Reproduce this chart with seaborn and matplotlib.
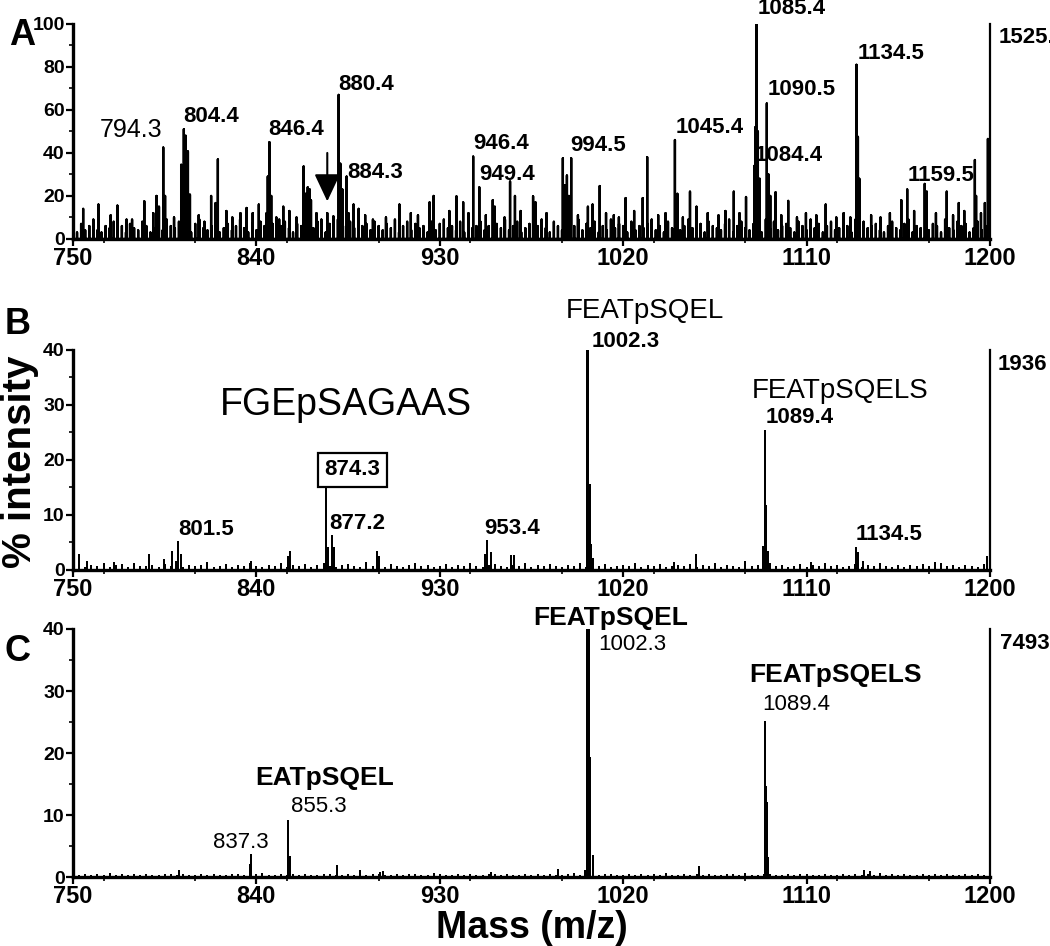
import numpy as np
import pandas as pd
import matplotlib.pyplot as plt
import seaborn as sns
from matplotlib.ticker import MultipleLocator

# ---------------- data ----------------
# Panel A: visible peaks (m/z, % intensity)
a_mz = [755.0, 762.5, 771.8, 779.0, 785.0, 791.0, 792.2, 794.3, 795.2, 803.1,
        804.4, 805.3, 806.4, 807.4, 814.5, 817.8, 820.0, 821.1, 828.2, 832.2,
        835.2, 838.2, 841.2, 845.0, 845.6, 846.4, 847.3, 851.2, 853.2, 856.2,
        859.7, 863.2, 864.2, 865.2, 866.2, 866.8, 874.8, 877.8, 880.4, 881.2,
        882.2, 884.3, 885.2, 887.7, 890.2, 897.2, 910.2, 925.0, 927.0, 938.2,
        941.5, 946.4, 949.4, 956.0, 957.0, 964.5, 966.9, 975.8, 977.0, 990.4,
        991.5, 992.4, 993.4, 994.5, 1002.7, 1005.0, 1008.5, 1015.4, 1021.2, 1029.6,
        1031.8, 1045.4, 1046.6, 1052.8, 1056.0, 1074.3, 1080.3, 1084.4, 1084.9, 1085.4,
        1086.1, 1087.0, 1090.5, 1091.3, 1092.2, 1094.8, 1101.0, 1119.4, 1131.5, 1134.5,
        1135.2, 1135.9, 1156.5, 1159.4, 1168.0, 1169.0, 1178.8, 1184.7, 1192.6, 1193.2,
        1197.5, 1199.0, 1199.6,
        768.5, 776.3, 789.4, 799.6, 811.7, 825.3, 849.8, 869.5, 871.9, 893.4,
        903.6, 915.8, 919.3, 934.7, 944.1, 952.6, 961.8, 969.7, 982.4, 997.8,
        1011.6, 1017.9, 1025.4, 1037.2, 1040.8, 1049.3, 1061.5, 1066.8, 1070.2, 1077.1,
        1097.6, 1105.3, 1109.7, 1114.8, 1124.6, 1128.2, 1141.7, 1146.3, 1150.9, 1162.8,
        1173.5, 1181.9, 1187.4, 1195.6]
a_int = [14, 16, 15.5, 9, 17.5, 20, 15, 42.5, 20, 34.5,
         51, 48, 40.7, 20.6, 8, 20, 16.7, 37, 10, 12,
         14.4, 12, 16, 12, 29, 45, 20, 9, 15, 13,
         10, 33.7, 21, 24, 23, 18, 12, 10.5, 67, 35,
         23, 29, 12, 16, 14, 9, 16, 17, 20, 19.8,
         17, 38.3, 24, 18, 15, 26.7, 20, 19.8, 17, 37.5,
         25, 29.5, 20, 37.5, 15, 16, 24.6, 11, 19, 19,
         38, 46, 21, 22, 15, 22, 19.5, 34, 52, 100,
         50, 28, 63, 30, 20, 21.7, 17.7, 16, 10, 81,
         47.5, 28, 18, 23, 25.6, 22, 22, 16.7, 36.7, 20,
         16.7, 46.5, 28,
         11, 9, 12, 10, 11, 13, 10, 12, 9, 11,
         10, 12, 11, 13, 12, 11, 10, 13, 12, 11,
         12, 10, 13, 11, 12, 10, 12, 11, 13, 12,
         11, 10, 12, 11, 10, 12, 11, 10, 12, 13,
         12, 11, 13, 12]
# Panel A baseline noise, one value every 2 Da from 750 to 1200
a_noise = [5, 3, 7, 4, 6, 9, 4, 3, 6, 5, 8, 4, 6, 3, 7, 5, 4, 8, 6, 3, 5, 7, 4, 9, 6,
           5, 8, 4, 6, 3, 7, 9, 5, 4, 6, 8, 3, 5, 7, 4, 6, 9, 5, 3, 7, 4, 8, 6, 5, 7,
           4, 6, 8, 5, 3, 7, 6, 9, 4, 5, 8, 6, 3, 7, 5, 9, 4, 6, 8, 5, 3, 6, 7, 4, 8,
           6, 4, 7, 5, 9, 3, 6, 8, 4, 7, 5, 6, 3, 8, 4, 7, 9, 5, 6, 4, 8, 3, 7, 5, 6,
           8, 4, 6, 3, 7, 5, 9, 4, 6, 8, 3, 5, 7, 4, 6, 9, 5, 3, 8, 6, 4, 7, 5, 6, 9,
           4, 7, 5, 8, 3, 6, 4, 9, 5, 7, 6, 3, 8, 4, 6, 5, 7, 9, 4, 6, 3, 8, 5, 7, 4,
           6, 9, 5, 4, 7, 3, 8, 6, 5, 4, 7, 9, 3, 6, 8, 5, 4, 7, 6, 3, 9, 5, 8, 4, 6,
           7, 5, 3, 8, 6, 4, 9, 5, 7, 3, 6, 8, 4, 5, 7, 6, 3, 9, 4, 8, 5, 6, 7, 4, 3,
           6, 8, 5, 4, 7, 9, 3, 6, 5, 8, 4, 7, 6, 3, 9, 5, 4, 8, 6, 7, 3, 5, 8, 4, 6,
           5]

# Panel B
b_mz = [752.8, 757.0, 770.0, 787.4, 794.8, 798.4, 800.6, 801.5, 803.0, 837.6,
        855.4, 856.6, 874.0, 874.3, 875.3, 877.2, 878.3, 899.4, 900.0, 952.0,
        953.4, 955.0, 964.8, 966.5, 1002.3, 1002.9, 1003.6, 1004.4, 1005.2, 1045.0,
        1055.6, 1080.0, 1088.6, 1089.4, 1090.2, 1091.0, 1112.0, 1134.5, 1135.3, 1137.5,
        1173.0, 1198.7]
b_int = [2.7, 1.5, 1.2, 2.7, 1.8, 3.2, 1.5, 5.0, 2.7, 1.5,
         2.4, 3.2, 6.5, 15.8, 4.0, 6.2, 4.0, 3.2, 2.4, 2.7,
         5.2, 3.0, 2.5, 2.5, 100, 60, 15.5, 4.5, 2.0, 1.2,
         2.7, 1.5, 4.2, 25.2, 11.7, 3.3, 1.2, 4.0, 3.0, 1.5,
         1.2, 2.4]
# Panel B baseline noise, one value every 3 Da
b_noise = [0.6, 1.2, 0.4, 0.8, 0.5, 1.0, 0.3, 0.7, 0.9, 0.4, 1.1, 0.6, 0.5, 0.8, 0.3, 0.9, 0.6, 1.0, 0.4, 0.7, 0.5, 0.8, 1.2, 0.4, 0.6,
           0.9, 0.3, 0.7, 0.5, 1.0, 0.6, 0.4, 0.8, 0.5, 1.1, 0.3, 0.7, 0.6, 0.9, 0.4, 0.8, 1.0, 0.5, 0.3, 0.7, 0.9, 0.6, 0.4, 1.2, 0.5,
           0.7, 0.4, 0.9, 0.6, 0.3, 0.8, 1.0, 0.5, 0.7, 0.4, 0.6, 0.9, 0.3, 0.8, 0.5, 1.1, 0.6, 0.4, 0.7, 0.9, 0.5, 0.3, 0.8, 0.6, 1.0,
           0.4, 0.7, 0.5, 0.9, 0.6, 0.3, 0.8, 0.5, 1.0, 0.4, 0.7, 0.6, 0.9, 0.3, 0.5, 0.8, 0.6, 1.1, 0.4, 0.7, 0.5, 0.9, 0.3, 0.6, 0.8,
           0.5, 0.9, 0.3, 0.7, 0.6, 1.0, 0.4, 0.8, 0.5, 0.3, 0.9, 0.6, 0.7, 0.4, 1.0, 0.5, 0.8, 0.3, 0.6, 0.9, 0.4, 0.7, 0.5, 1.1, 0.6,
           0.8, 0.4, 0.6, 0.9, 0.3, 0.7, 0.5, 1.0, 0.6, 0.4, 0.8, 0.3, 0.7, 0.5, 0.9, 0.6, 0.4, 1.0, 0.5, 0.7, 0.3, 0.8, 0.6, 0.4, 0.9,
           0.5]

# Panel C
c_mz = [785.6, 801.8, 836.8, 837.3, 855.3, 856.3, 879.6, 891.0, 900.5, 902.0,
        955.0, 988.0, 1001.4, 1002.3, 1002.8, 1003.3, 1003.7, 1005.0, 1057.0, 1089.4,
        1090.0, 1090.6, 1091.3, 1138.0, 1141.0]
c_int = [0.4, 0.9, 2.0, 3.5, 9.0, 3.3, 1.7, 0.9, 0.7, 0.8,
         0.6, 1.1, 1.0, 100, 24.6, 60, 19.2, 3.4, 1.6, 25.0,
         14.6, 12.0, 3.0, 1.0, 0.8]
c_noise = [0.3, 0.2, 0.4, 0.1, 0.3, 0.2, 0.5, 0.2, 0.3, 0.1, 0.4, 0.2, 0.3, 0.2, 0.1, 0.4, 0.3, 0.2, 0.3, 0.1, 0.2, 0.4, 0.2, 0.3, 0.1,
           0.2, 0.4, 0.3, 0.1, 0.2, 0.3, 0.5, 0.2, 0.1, 0.3, 0.2, 0.4, 0.1, 0.3, 0.2, 0.2, 0.4, 0.3, 0.1, 0.2, 0.3, 0.2, 0.5, 0.1, 0.3,
           0.4, 0.2, 0.1, 0.3, 0.2, 0.4, 0.3, 0.1, 0.2, 0.5, 0.3, 0.2, 0.1, 0.4, 0.2, 0.3, 0.2, 0.1, 0.3, 0.4, 0.2, 0.3, 0.1, 0.2, 0.4,
           0.1, 0.3, 0.2, 0.4, 0.2, 0.1, 0.3, 0.5, 0.2, 0.3, 0.1, 0.2, 0.4, 0.3, 0.2, 0.1, 0.3, 0.2, 0.4, 0.1, 0.3, 0.2, 0.5, 0.2, 0.1,
           0.3, 0.1, 0.4, 0.2, 0.3, 0.2, 0.1, 0.4, 0.3, 0.2, 0.5, 0.1, 0.2, 0.3, 0.4, 0.2, 0.1, 0.3, 0.2, 0.4, 0.3, 0.1, 0.2, 0.3, 0.2,
           0.2, 0.3, 0.1, 0.4, 0.2, 0.3, 0.2, 0.5, 0.1, 0.3, 0.2, 0.4, 0.1, 0.2, 0.3, 0.2, 0.4, 0.1, 0.3, 0.2, 0.1, 0.4, 0.2, 0.3, 0.2,
           0.3]

mz_ticks = [750, 840, 930, 1020, 1110, 1200]

# peak labels: (text, m/z, intensity, ha, weight, size)
a_labels = [("794.3", 793.8, 50.7, "right", "normal", 18),
            ("804.4", 804.0, 57, "left", "bold", 16),
            ("846.4", 846.0, 51, "left", "bold", 16),
            ("880.4", 880.0, 72, "left", "bold", 16),
            ("884.3", 884.8, 30.7, "left", "bold", 16),
            ("946.4", 946.2, 44.5, "left", "bold", 16),
            ("949.4", 949.2, 30.2, "left", "bold", 16),
            ("994.5", 994.0, 43.3, "left", "bold", 16),
            ("1045.4", 1045.6, 52, "left", "bold", 16),
            ("1085.4", 1085.8, 107, "left", "bold", 16),
            ("1090.5", 1090.9, 69.7, "left", "bold", 16),
            ("1084.4", 1084.6, 39, "left", "bold", 16),
            ("1134.5", 1134.9, 86.4, "left", "bold", 16),
            ("1159.5", 1159.6, 29.3, "left", "bold", 16),
            ("1525.", 1204.5, 93.5, "left", "bold", 16)]
b_labels = [("FGEpSAGAAS", 822.0, 30.0, "left", "normal", 27),
            ("877.2", 876.0, 8.5, "left", "bold", 16),
            ("801.5", 801.5, 7.3, "left", "bold", 16),
            ("953.4", 951.8, 7.6, "left", "bold", 16),
            ("FEATpSQEL", 991.7, 47.0, "left", "normal", 20),
            ("1002.3", 1004.6, 41.6, "left", "bold", 16),
            ("FEATpSQELS", 1082.9, 32.5, "left", "normal", 20),
            ("1089.4", 1089.7, 27.7, "left", "bold", 16),
            ("1134.5", 1134.2, 6.4, "left", "bold", 16),
            ("1936", 1204.0, 37.4, "left", "bold", 16)]
c_labels = [("EATpSQEL", 839.3, 16.0, "left", "bold", 19),
            ("855.3", 857.0, 11.4, "left", "normal", 16),
            ("837.3", 832.5, 5.5, "center", "normal", 16),
            ("FEATpSQEL", 976.0, 41.8, "left", "bold", 19),
            ("1002.3", 1007.6, 37.5, "left", "normal", 16),
            ("FEATpSQELS", 1082.0, 32.6, "left", "bold", 19),
            ("1089.4", 1088.5, 27.8, "left", "normal", 16),
            ("7493", 1205.0, 37.7, "left", "bold", 16)]


def spectrum_frame(mz, inten, noise, step):
    # stick spectrum: every peak goes baseline -> top -> baseline
    noise_mz = 750 + step * np.arange(len(noise))
    x = np.concatenate([noise_mz, np.asarray(mz, float)])
    y = np.concatenate([np.asarray(noise, float), np.asarray(inten, float)])
    order = np.argsort(x, kind="stable")
    x, y = x[order], y[order]
    zeros = np.zeros_like(y)
    return pd.DataFrame({"mz": np.repeat(x, 3),
                         "intensity": np.column_stack([zeros, y, zeros]).ravel()})


def draw_panel(ax, df, ymax, ymajor, labels, lw):
    sns.lineplot(data=df, x="mz", y="intensity", sort=False, estimator=None,
                 color="black", linewidth=lw, ax=ax)
    ax.set_xlim(750, 1200)
    ax.set_ylim(0, ymax)
    ax.set_xticks(mz_ticks)
    ax.xaxis.set_minor_locator(MultipleLocator(45))
    ax.yaxis.set_major_locator(MultipleLocator(ymajor))
    ax.yaxis.set_minor_locator(MultipleLocator(ymajor / 2))
    ax.set_xlabel("")
    ax.set_ylabel("")
    sns.despine(ax=ax, top=True, right=False)
    for side in ["left", "bottom"]:
        ax.spines[side].set_linewidth(2.4)
    ax.spines["right"].set_linewidth(1.6)
    ax.tick_params(axis="both", which="major", direction="out", width=1.6,
                   length=5, right=False, top=False, colors="black")
    ax.tick_params(axis="both", which="minor", direction="out", width=1.2,
                   length=3, right=False, top=False, colors="black")
    ax.tick_params(axis="x", labelsize=17, pad=1)
    ax.tick_params(axis="y", labelsize=14, pad=1)
    for lab in ax.get_xticklabels() + ax.get_yticklabels():
        lab.set_fontweight("bold")
    for text, x, y, ha, weight, size in labels:
        ax.text(x, y, text, ha=ha, va="center", fontsize=size,
                fontweight=weight, color="black", clip_on=False)


sns.set_style("ticks", {"axes.edgecolor": "black", "text.color": "black",
                        "xtick.color": "black", "ytick.color": "black",
                        "axes.labelcolor": "black"})
plt.rcParams["font.family"] = ["Liberation Sans", "DejaVu Sans"]

fig = plt.figure(figsize=(10.5, 9.46), dpi=100)
ax_a = fig.add_axes([0.0695, 0.7474, 0.8733, 0.2273])
ax_b = fig.add_axes([0.0695, 0.3975, 0.8733, 0.2326])
ax_c = fig.add_axes([0.0695, 0.0729, 0.8733, 0.2622])

draw_panel(ax_a, spectrum_frame(a_mz, a_int, a_noise, 2), 100, 20, a_labels, 1.7)
draw_panel(ax_b, spectrum_frame(b_mz, b_int, b_noise, 3), 40, 10, b_labels, 1.3)
draw_panel(ax_c, spectrum_frame(c_mz, c_int, c_noise, 3), 40, 10, c_labels, 1.3)

# arrow in panel A
ax_a.annotate("", xy=(874.8, 17.5), xytext=(874.8, 40),
              arrowprops=dict(arrowstyle="-|>,head_length=0.85,head_width=0.4",
                              color="black", lw=1.5, mutation_scale=20,
                              shrinkA=0, shrinkB=0))

# boxed label in panel B
ax_b.text(887.0, 18.2, "874.3", ha="center", va="center", fontsize=16,
          fontweight="bold", color="black",
          bbox=dict(boxstyle="square,pad=0.3", fc="white", ec="black", lw=1.6))

# panel letters and axis titles
fig.text(0.021, 0.962, "A", fontsize=26, fontweight="bold", ha="center", va="center")
fig.text(0.017, 0.657, "B", fontsize=26, fontweight="bold", ha="center", va="center")
fig.text(0.017, 0.311, "C", fontsize=26, fontweight="bold", ha="center", va="center")
fig.text(0.019, 0.512, "% intensity", fontsize=29, fontweight="bold",
         rotation=90, ha="center", va="center")
fig.text(0.507, 0.019, "Mass (m/z)", fontsize=27, fontweight="bold",
         ha="center", va="center")

fig.savefig("out.png", dpi=100, facecolor="white")
